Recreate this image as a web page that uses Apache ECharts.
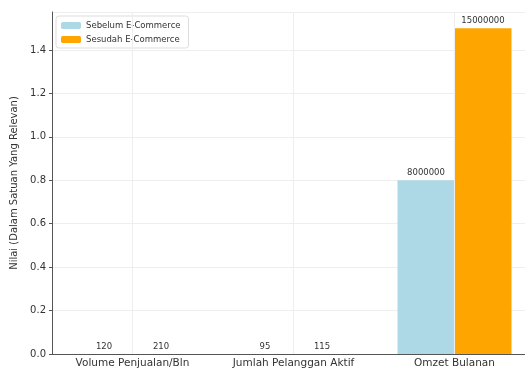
<!DOCTYPE html>
<html>
<head>
<meta charset="utf-8">
<script src="https://cdn.jsdelivr.net/npm/echarts@6/dist/echarts.min.js"></script>
<style>
  html, body { margin: 0; padding: 0; background: #fff; }
  #main { width: 525px; height: 370px; }
</style>
</head>
<body>
<div id="main"></div>
<script>
// data
var categories = ['Volume Penjualan/Bln', 'Jumlah Pelanggan Aktif', 'Omzet Bulanan'];
var sebelum = [120, 95, 8000000];
var sesudah = [210, 115, 15000000];
var seriesNames = ['Sebelum E-Commerce', 'Sesudah E-Commerce'];

var chart = echarts.init(document.getElementById('main'));

var labelStyle = {
  show: true,
  position: 'top',
  distance: 3,
  fontSize: 8.5,
  color: '#333',
  fontFamily: 'DejaVu Sans'
};

// vertical grid lines at category centres (drawn behind the bars)
var vLines = categories.map(function (c) { return { xAxis: c }; });

var option = {
  animation: false,
  textStyle: { fontFamily: 'DejaVu Sans' },
  grid: { left: 52, top: 12, width: 483, height: 342, outerBoundsMode: 'none', containLabel: false },
  legend: {
    data: seriesNames,
    left: 56,
    top: 16,
    orient: 'vertical',
    itemWidth: 20,
    itemHeight: 7,
    itemGap: 5,
    padding: [5, 8, 4, 5],
    borderColor: '#ddd',
    borderWidth: 1,
    borderRadius: 3,
    backgroundColor: 'rgba(255,255,255,0.8)',
    textStyle: { fontSize: 8.5, color: '#333' }
  },
  xAxis: {
    type: 'category',
    data: categories,
    axisLine: { lineStyle: { color: '#555', width: 1 } },
    axisTick: { show: false },
    axisLabel: { fontSize: 10.5, color: '#333', margin: 4, interval: 0 },
    splitLine: { show: false }
  },
  yAxis: {
    type: 'value',
    min: 0,
    max: 15750000,
    interval: 2000000,
    name: 'Nilai (Dalam Satuan Yang Relevan)',
    nameLocation: 'middle',
    nameGap: 27,
    nameTextStyle: { fontSize: 10, color: '#333' },
    axisLine: { show: true, lineStyle: { color: '#555', width: 1 } },
    axisTick: { show: true, length: 3, lineStyle: { color: '#555' } },
    axisLabel: {
      fontSize: 10,
      color: '#333',
      margin: 6,
      showMaxLabel: false,
      formatter: function (v) { return (v / 1e7).toFixed(1); }
    },
    splitLine: { show: true, lineStyle: { color: '#eee' } }
  },
  series: [
    {
      name: 'grid',
      type: 'line',
      data: [],
      z: 0,
      silent: true,
      markLine: {
        silent: true,
        symbol: 'none',
        label: { show: false },
        lineStyle: { color: '#eee', type: 'solid', width: 1 },
        data: vLines
      }
    },
    {
      name: seriesNames[0],
      type: 'bar',
      data: sebelum,
      barWidth: 57,
      barGap: '0%',
      z: 2,
      itemStyle: { color: '#ADD8E6' },
      label: labelStyle
    },
    {
      name: seriesNames[1],
      type: 'bar',
      data: sesudah,
      barWidth: 57,
      barGap: '0%',
      z: 2,
      itemStyle: { color: '#FFA500' },
      label: labelStyle
    }
  ]
};

chart.setOption(option);
</script>
</body>
</html>
